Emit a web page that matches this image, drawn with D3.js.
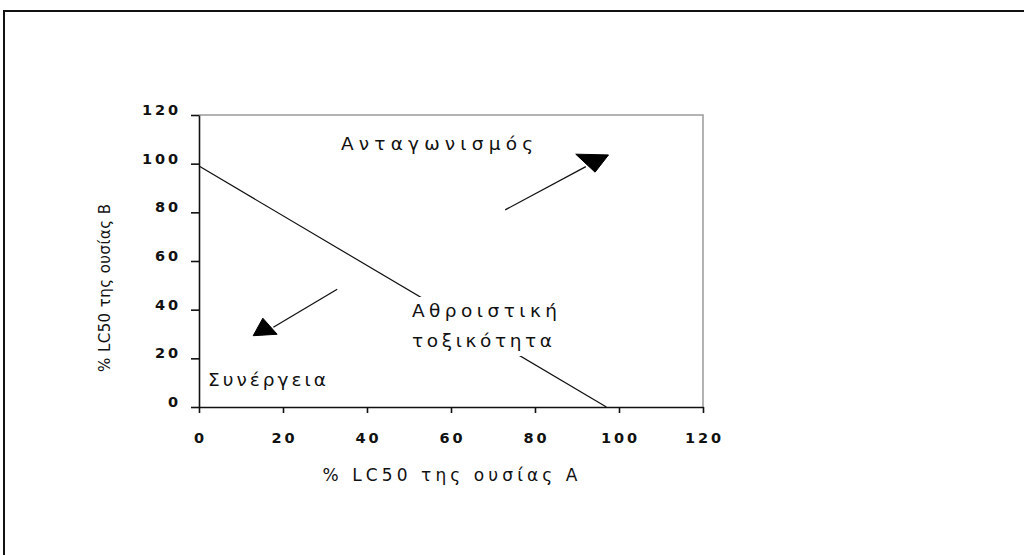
<!DOCTYPE html>
<html>
<head>
<meta charset="utf-8">
<script src="https://cdn.jsdelivr.net/npm/d3@7/dist/d3.min.js"></script>
<style>
  html, body { margin: 0; padding: 0; background: #fff; }
  svg { display: block; }
  text { font-family: "DejaVu Sans", "Liberation Sans", Arial, sans-serif; fill: #111; }
</style>
</head>
<body>
<svg id="chart" width="1024" height="555"></svg>
<script>
// Isobologram: % LC50 of substance A vs % LC50 of substance B
const xTicks = [0, 20, 40, 60, 80, 100, 120];
const yTicks = [0, 20, 40, 60, 80, 100, 120];

// Line of additive toxicity (x = % LC50 A, y = % LC50 B)
const additiveLine = [[0, 99], [97, 0]];

// Arrows: shaft start/end and filled head triangle, in data units
const antagonismShaft = [[72.9, 81.0], [92.1, 98.8]];
const antagonismHead = [[89.7, 103.9], [97.5, 103.6], [94.3, 96.5]];
const synergyShaft = [[32.9, 48.4], [17.7, 32.8]];
const synergyHead = [[12.9, 29.3], [15.2, 36.5], [18.6, 29.9]];

const xTitle = "% LC50 της ουσίας Α";
const yTitle = "% LC50 της ουσίας Β";
const antagonismLabel = "Ανταγωνισμός";
const synergyLabel = "Συνέργεια";
const additiveLabel = ["Αθροιστική", "τοξικότητα"];

const svg = d3.select("#chart");

// outer frame
svg.append("rect")
  .attr("x", 4).attr("y", 11)
  .attr("width", 1040).attr("height", 600)
  .attr("fill", "none").attr("stroke", "#111").attr("stroke-width", 2);

const x = d3.scaleLinear().domain([0, 120]).range([199, 703]);
const y = d3.scaleLinear().domain([0, 120]).range([407, 115]);

// plot frame (top and right edges, grey)
svg.append("path")
  .attr("d", `M${x(0)},${y(120)}H${x(120)}V${y(0)}`)
  .attr("fill", "none").attr("stroke", "#9a9a9a").attr("stroke-width", 1.5);

// x axis
const xAxis = svg.append("g")
  .attr("transform", `translate(0,${y(0)})`)
  .call(d3.axisBottom(x).tickValues(xTicks).tickSize(6).tickPadding(0).tickSizeOuter(0).tickFormat(() => ""));
xAxis.select(".domain").attr("stroke", "#111").attr("stroke-width", 1.6);
xAxis.selectAll(".tick line").attr("stroke", "#111").attr("stroke-width", 1.6);

// y axis
const yAxis = svg.append("g")
  .attr("transform", `translate(${x(0)},0)`)
  .call(d3.axisLeft(y).tickValues(yTicks).tickSize(8).tickSizeOuter(0).tickFormat(() => ""));
yAxis.select(".domain").attr("stroke", "#111").attr("stroke-width", 1.6);
yAxis.selectAll(".tick line").attr("stroke", "#111").attr("stroke-width", 1.6);

// tick labels, widely spaced
svg.append("g").selectAll("text").data(xTicks).join("text")
  .attr("x", d => x(d)).attr("y", 443)
  .attr("text-anchor", "middle")
  .attr("font-size", 14.5).attr("font-weight", "bold")
  .attr("textLength", d => String(d).length * 13 - 3)
  .attr("lengthAdjust", "spacing")
  .text(d => d);

svg.append("g").selectAll("text").data(yTicks).join("text")
  .attr("x", 178).attr("y", d => y(d))
  .attr("text-anchor", "end")
  .attr("font-size", 14.5).attr("font-weight", "bold")
  .attr("textLength", d => String(d).length * 13 - 3)
  .attr("lengthAdjust", "spacing")
  .text(d => d);

// axis titles
svg.append("text")
  .attr("x", 450).attr("y", 481)
  .attr("text-anchor", "middle")
  .attr("font-size", 17)
  .attr("textLength", 255).attr("lengthAdjust", "spacing")
  .text(xTitle);

svg.append("text")
  .attr("transform", `translate(110,288) rotate(-90)`)
  .attr("text-anchor", "middle")
  .attr("font-size", 15)
  .attr("textLength", 168).attr("lengthAdjust", "spacing")
  .text(yTitle);

const line = d3.line().x(d => x(d[0])).y(d => y(d[1]));

// additive toxicity line
svg.append("path").datum(additiveLine)
  .attr("d", line)
  .attr("fill", "none").attr("stroke", "#111").attr("stroke-width", 1.2);

// label for the additive line, on a white box that interrupts it
const addG = svg.append("g");
const addBox = addG.append("rect").attr("fill", "#fff");
addG.selectAll("text").data(additiveLabel).join("text")
  .attr("x", 412).attr("y", (d, i) => 317 + i * 30)
  .attr("font-size", 18.5)
  .attr("textLength", (d, i) => i === 0 ? 145 : 140)
  .attr("lengthAdjust", "spacing")
  .text(d => d);
addBox.attr("x", 402).attr("y", 297).attr("width", 170).attr("height", 59);

// arrows
function arrow(shaft, head) {
  svg.append("path").datum(shaft)
    .attr("d", line)
    .attr("fill", "none").attr("stroke", "#111").attr("stroke-width", 1.3);
  svg.append("path").datum(head)
    .attr("d", d => line(d) + "Z")
    .attr("fill", "#000").attr("stroke", "#000").attr("stroke-width", 1);
}
arrow(antagonismShaft, antagonismHead);
arrow(synergyShaft, synergyHead);

// region labels
svg.append("text")
  .attr("x", 341).attr("y", 150)
  .attr("font-size", 18.5)
  .attr("textLength", 192).attr("lengthAdjust", "spacing")
  .text(antagonismLabel);

svg.append("text")
  .attr("x", 208).attr("y", 386)
  .attr("font-size", 18.5)
  .attr("textLength", 118).attr("lengthAdjust", "spacing")
  .text(synergyLabel);
</script>
</body>
</html>
